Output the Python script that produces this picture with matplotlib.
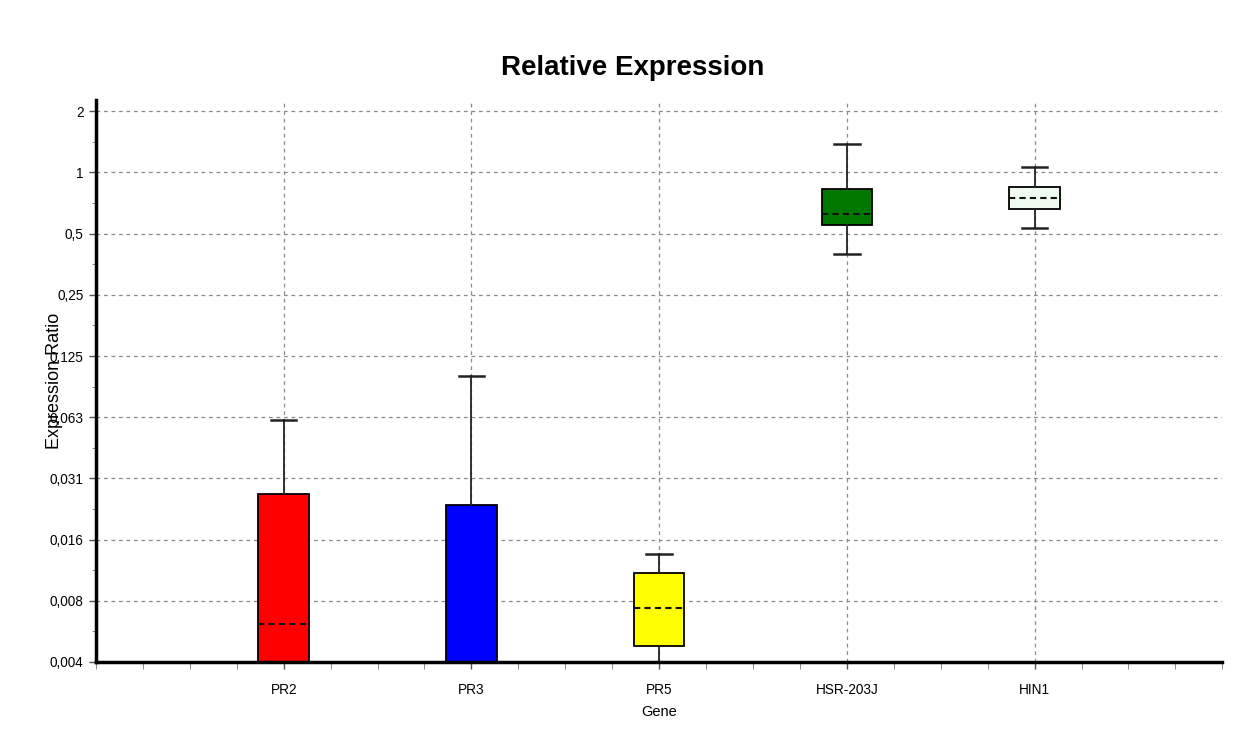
import matplotlib.pyplot as plt
import numpy as np

genes = ['PR2', 'PR3', 'PR5', 'HSR-203J', 'HIN1']
colors = ['#ff0000', '#0000ff', '#ffff00', '#007800', '#eefbee']

# box statistics (expression ratio); values below 0,004 fall off the axis
whisker_low = [0.0015, 0.0012, 0.0030, 0.398, 0.536]
q1 = [0.0020, 0.0018, 0.00469, 0.553, 0.664]
median = [0.0060, 0.0030, 0.0072, 0.624, 0.752]
q3 = [0.0262, 0.0230, 0.0107, 0.829, 0.850]
whisker_high = [0.0608, 0.100, 0.0132, 1.385, 1.065]

tick_values = [2.0 ** e for e in range(1, -9, -1)]
tick_labels = ['2', '1', '0,5', '0,25', '0,125', '0,063', '0,031', '0,016', '0,008', '0,004']

plt.rcParams['font.family'] = ['Liberation Sans', 'DejaVu Sans']

fig = plt.figure(figsize=(12.46, 7.47), dpi=100)
ax = fig.add_axes([0.077, 0.1138, 0.904, 0.752])

positions = np.arange(1, len(genes) + 1)
stats = []
for i in range(len(genes)):
    stats.append(dict(whislo=whisker_low[i], q1=q1[i], med=median[i],
                      q3=q3[i], whishi=whisker_high[i], fliers=[]))

bp = ax.bxp(stats, positions=positions, widths=0.27, patch_artist=True,
            showfliers=False, zorder=3,
            boxprops=dict(edgecolor='black', linewidth=1.3),
            whiskerprops=dict(color='#222222', linewidth=1.3),
            capprops=dict(color='#222222', linewidth=1.8),
            medianprops=dict(color='#111111', linewidth=1.5, linestyle=(0, (3, 2))))
for patch, c in zip(bp['boxes'], colors):
    patch.set_facecolor(c)

ax.set_yscale('log', base=2)
ax.set_ylim(2.0 ** -8, 2.0 ** 1.18)
ax.set_yticks(tick_values)
ax.set_yticklabels(tick_labels)
ax.yaxis.set_minor_locator(plt.FixedLocator([2.0 ** (e + 0.5) for e in range(-8, 1)]))
ax.yaxis.set_minor_formatter(plt.NullFormatter())

ax.set_xlim(0, 6)
ax.set_xticks(positions)
ax.set_xticklabels(genes)
ax.xaxis.set_minor_locator(plt.MultipleLocator(0.25))

ax.grid(True, which='major', color='#8a8a8a', linestyle=(0, (3, 3)), linewidth=0.9)
ax.set_axisbelow(True)

for side in ['top', 'right']:
    ax.spines[side].set_visible(False)
for side in ['left', 'bottom']:
    ax.spines[side].set_linewidth(2.5)
    ax.spines[side].set_zorder(4)

ax.tick_params(axis='both', which='major', labelsize=9.8, length=5, width=1, color='#555555')
ax.tick_params(axis='y', which='major', pad=4)
ax.tick_params(axis='y', which='minor', length=3, color='#777777')
ax.tick_params(axis='x', which='minor', length=5, color='#777777')
ax.tick_params(axis='x', which='major', pad=10)

fig.text(633 / 1246, 1 - 68 / 747, 'Relative Expression', fontsize=20,
         fontweight='bold', ha='center', va='center')
ax.set_xlabel('Gene', fontsize=10.5, labelpad=6)
ax.yaxis.set_label_coords(-0.029, 0.5)
ax.set_ylabel('Expression Ratio', fontsize=13)

fig.savefig('out.png', dpi=100)
